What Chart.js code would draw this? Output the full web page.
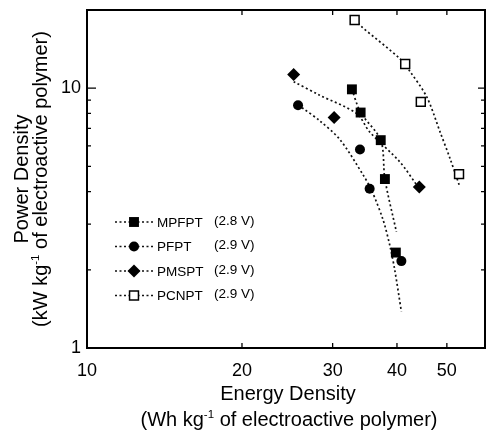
<!DOCTYPE html>
<html><head><meta charset="utf-8">
<script src="https://cdn.jsdelivr.net/npm/chart.js@4/dist/chart.umd.min.js"></script>
<style>html,body{margin:0;padding:0;background:#fff}#wrap{width:486px;height:435px;position:relative}</style>
</head><body><div id="wrap"><canvas id="c" width="486" height="435"></canvas></div>
<script>
const seriesNames = ["MPFPT", "PFPT", "PMSPT", "PCNPT"];
const seriesVoltages = ["(2.8 V)", "(2.9 V)", "(2.9 V)", "(2.9 V)"];
// measured points (Energy density Wh/kg, Power density kW/kg)
const mpfptEnergy = [32.7, 34.0, 37.2, 37.9, 39.8];
const mpfptPower  = [9.9, 8.06, 6.31, 4.47, 2.33];
const pfptEnergy  = [25.7, 33.9, 35.4, 40.8];
const pfptPower   = [8.6, 5.81, 4.10, 2.16];
const pmsptEnergy = [25.2, 30.2, 44.2];
const pmsptPower  = [11.3, 7.71, 4.17];
const pcnptEnergy = [33.1, 41.5, 44.5, 52.8];
const pcnptPower  = [18.3, 12.4, 8.86, 4.67];
// dotted fit curves
const mpfptFitEnergy = [32.7, 34.0, 37.2, 37.9, 39.9];
const mpfptFitPower  = [9.9, 8.06, 6.31, 4.47, 2.80];
const pfptFitEnergy  = [25.7, 26.3, 28.3, 31.0, 34.4, 35.7, 37.6, 38.8, 39.6, 40.8];
const pfptFitPower   = [8.6, 8.35, 7.50, 6.34, 4.63, 4.05, 3.11, 2.45, 2.0, 1.38];
const pmsptFitEnergy = [25.2, 28.3, 33.4, 35.4, 40.5, 43.7];
const pmsptFitPower  = [10.6, 9.40, 7.99, 6.79, 5.21, 4.24];
const pcnptFitEnergy = [33.1, 34.2, 40.5, 42.4, 45.7, 48.5, 50.7, 53.0];
const pcnptFitPower  = [18.3, 17.2, 13.0, 11.6, 9.26, 6.79, 5.37, 4.17];
// axes
const xTickLabels = [10, 20, 30, 40, 50];
const yTickLabels = [1, 10];
const yMinorTicks = [2, 3, 4, 5, 6, 7, 8, 9];

const FONT = '"Liberation Sans", Arial, Helvetica, sans-serif';
const pts = (xs, ys) => xs.map((v, i) => ({x: v, y: ys[i]}));

const markerStyles = [
  {pointStyle: 'rect', radius: 7, fill: '#000', bw: 0},
  {pointStyle: 'circle', radius: 5, fill: '#000', bw: 0},
  {pointStyle: 'rectRot', radius: 6.5, fill: '#000', bw: 0},
  {pointStyle: 'rect', radius: 6.3, fill: '#fff', bw: 1.5}
];
const pointSets = [pts(mpfptEnergy, mpfptPower), pts(pfptEnergy, pfptPower), pts(pmsptEnergy, pmsptPower), pts(pcnptEnergy, pcnptPower)];
const fitSets = [pts(mpfptFitEnergy, mpfptFitPower), pts(pfptFitEnergy, pfptFitPower), pts(pmsptFitEnergy, pmsptFitPower), pts(pcnptFitEnergy, pcnptFitPower)];

const datasets = [];
fitSets.forEach((d, i) => datasets.push({
  label: seriesNames[i] + ' fit', data: d, showLine: true, pointRadius: 0,
  borderColor: '#111', borderWidth: 1.7, borderDash: [2, 2.6], tension: 0.3, order: 2
}));
pointSets.forEach((d, i) => datasets.push({
  label: seriesNames[i], data: d, showLine: false,
  pointStyle: markerStyles[i].pointStyle, pointRadius: markerStyles[i].radius,
  pointBackgroundColor: markerStyles[i].fill, pointBorderColor: '#000',
  pointBorderWidth: markerStyles[i].bw, order: 1
}));

function drawMarker(ctx, i, x, y) {
  const m = markerStyles[i];
  ctx.save();
  ctx.fillStyle = m.fill; ctx.strokeStyle = '#000'; ctx.lineWidth = m.bw; ctx.setLineDash([]);
  ctx.beginPath();
  if (m.pointStyle === 'rect') { const s = m.radius * Math.SQRT1_2; ctx.rect(x - s, y - s, 2 * s, 2 * s); }
  else if (m.pointStyle === 'circle') { ctx.arc(x, y, m.radius, 0, Math.PI * 2); }
  else { const r = m.radius; ctx.moveTo(x, y - r); ctx.lineTo(x + r, y); ctx.lineTo(x, y + r); ctx.lineTo(x - r, y); ctx.closePath(); }
  ctx.fill();
  if (m.bw > 0) ctx.stroke();
  ctx.restore();
}

function drawSegs(ctx, segs, cx, cy) {
  let total = 0;
  segs.forEach(s => { ctx.font = s.size + 'px ' + FONT; s.w = ctx.measureText(s.t).width; total += s.w; });
  let x = cx - total / 2;
  segs.forEach(s => { ctx.font = s.size + 'px ' + FONT; ctx.fillText(s.t, x, cy + (s.dy || 0)); x += s.w; });
}

const framePlugin = {
  id: 'frame',
  afterDraw(chart) {
    const {ctx, chartArea: a, scales: {x, y}} = chart;
    ctx.save();
    ctx.strokeStyle = '#000'; ctx.fillStyle = '#000';
    // tick marks (inward)
    ctx.lineWidth = 1.3;
    ctx.beginPath();
    xTickLabels.slice(1).forEach(v => {
      const p = x.getPixelForValue(v);
      ctx.moveTo(p, a.bottom); ctx.lineTo(p, a.bottom - 5);
      ctx.moveTo(p, a.top); ctx.lineTo(p, a.top + 5);
    });
    yMinorTicks.forEach(v => {
      const p = y.getPixelForValue(v);
      ctx.moveTo(a.left, p); ctx.lineTo(a.left + 4, p);
      ctx.moveTo(a.right, p); ctx.lineTo(a.right - 4, p);
    });
    yTickLabels.slice(1).forEach(v => {
      const p = y.getPixelForValue(v);
      ctx.moveTo(a.left, p); ctx.lineTo(a.left + 9, p);
      ctx.moveTo(a.right, p); ctx.lineTo(a.right - 7, p);
    });
    ctx.stroke();
    // frame
    ctx.lineWidth = 2;
    ctx.strokeRect(a.left, a.top, a.right - a.left, a.bottom - a.top);
    // legend
    seriesNames.forEach((name, i) => {
      const ry = 222 + i * 24.5;
      ctx.save();
      ctx.lineWidth = 1.6; ctx.setLineDash([2, 2.5]); ctx.strokeStyle = '#111';
      ctx.beginPath(); ctx.moveTo(115, ry); ctx.lineTo(155, ry); ctx.stroke();
      ctx.restore();
      drawMarker(ctx, i, 134, ry);
      ctx.font = '13.5px ' + FONT; ctx.textBaseline = 'middle'; ctx.textAlign = 'left';
      ctx.fillText(name, 157, ry + 1);
      ctx.fillText(seriesVoltages[i], 214, ry - 1);
    });
    // axis titles
    ctx.textBaseline = 'alphabetic'; ctx.textAlign = 'left';
    const cxm = (a.left + a.right) / 2;
    drawSegs(ctx, [{t: 'Energy Density', size: 20}], cxm + 2, 400);
    drawSegs(ctx, [{t: '(Wh kg', size: 20}, {t: '-1', size: 11.5, dy: -8}, {t: ' of electroactive polymer)', size: 20}], cxm + 3, 426);
    const cym = (a.top + a.bottom) / 2;
    ctx.save(); ctx.translate(27.5, cym); ctx.rotate(-Math.PI / 2);
    drawSegs(ctx, [{t: 'Power Density', size: 20}], 0, 0);
    ctx.restore();
    ctx.save(); ctx.translate(46.5, cym); ctx.rotate(-Math.PI / 2);
    drawSegs(ctx, [{t: '(kW kg', size: 20}, {t: '-1', size: 11.5, dy: -8}, {t: ' of electroactive polymer)', size: 20}], 0, 0);
    ctx.restore();
    ctx.restore();
  }
};

new Chart(document.getElementById('c'), {
  type: 'scatter',
  data: {datasets},
  options: {
    responsive: false, animation: false,
    layout: {autoPadding: false, padding: {top: 10, right: 1, left: 0, bottom: 0}},
    plugins: {legend: {display: false}, tooltip: {enabled: false}},
    scales: {
      x: {
        type: 'logarithmic', min: 10, max: 59.3, position: 'bottom',
        afterBuildTicks: s => { s.ticks = xTickLabels.map(v => ({value: v})); },
        afterFit: s => { s.height = 87; s.paddingLeft = 0; s.paddingRight = 0; },
        grid: {display: false, drawTicks: false}, border: {display: false},
        ticks: {font: {family: FONT, size: 18}, color: '#000', padding: 12, maxRotation: 0, autoSkip: false, callback: v => String(v)}
      },
      y: {
        type: 'logarithmic', min: 1, max: 20, position: 'left',
        afterBuildTicks: s => { s.ticks = yTickLabels.map(v => ({value: v})); },
        afterFit: s => { s.width = 87; s.paddingTop = 0; s.paddingBottom = 0; },
        grid: {display: false, drawTicks: false}, border: {display: false},
        ticks: {font: {family: FONT, size: 18}, color: '#000', padding: 6, autoSkip: false, callback: v => String(v)}
      }
    }
  },
  plugins: [framePlugin]
});
</script></body></html>
